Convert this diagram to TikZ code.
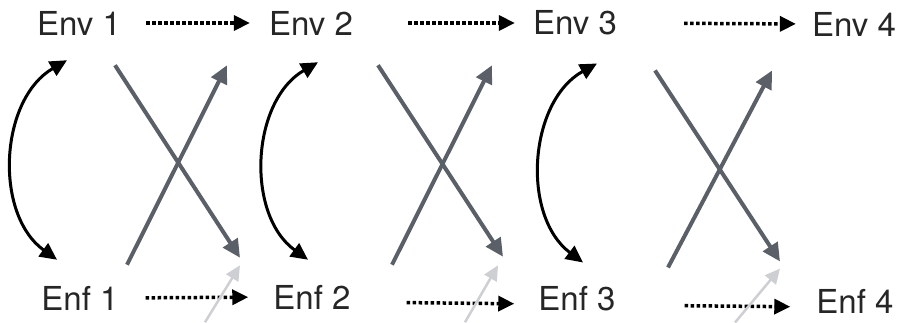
\documentclass[tikz,border=0pt]{standalone}
\usepackage{fontspec}
\setmainfont{TeX Gyre Heros}
\usepackage{tikz}
\definecolor{crossgray}{HTML}{5B5F67}
\definecolor{fadegray}{HTML}{CDCFD2}
\usetikzlibrary{arrows.meta}
\tikzstyle{lbl} = [inner sep=0pt, text=black!85, font=\fontsize{33}{38}\selectfont]
\tikzstyle{dotarrow} = [line width=3.5pt, dash pattern=on 3.5pt off 2.5pt,
-{Triangle[length=16pt,width=15pt]}]
\tikzstyle{swaparrow} = [line width=3pt, {Triangle[length=17pt,width=16pt]}-{Triangle[length=17pt,width=16pt]}]
\tikzstyle{crossarrow} = [crossgray, line width=4pt, -{Triangle[length=18pt,width=17pt]}]
\tikzstyle{fadearrow} = [fadegray, line width=2.5pt, -{Triangle[length=15pt,width=14pt]}]

\begin{document}
\begin{tikzpicture}[x=1pt, y=-1pt]
	\useasboundingbox (0,0) rectangle (901,322);
	\node (Env1) [lbl] at (79,23) {Env 1};
	\node (Env2) [lbl] at (311,23) {Env 2};
	\node (Env3) [lbl] at (575,23) {Env 3};
	\node (Env4) [lbl] at (854,24) {Env 4};
	\node (Enf1) [lbl] at (80,298) {Enf 1};
	\node (Enf2) [lbl] at (312,297) {Enf 2};
	\node (Enf3) [lbl] at (577,299) {Enf 3};
	\node (Enf4) [lbl] at (855,301) {Enf 4};

	\draw [dotarrow, shorten <=25pt, shorten >=19pt] (Env1.east) -- (Env2.west);
	\draw [dotarrow, shorten <=55pt, shorten >=18pt] (Env2.east) -- (Env3.west);
	\draw [dotarrow, shorten <=67pt, shorten >=16pt] (Env3.east) -- (Env4.west);
	\draw [dotarrow, shorten <=27pt, shorten >=25pt] (Enf1.east) -- (Enf2.west);
	\draw [dotarrow, shorten <=56pt, shorten >=24pt] ([yshift=-5pt]Enf2.east) -- ([yshift=-5pt]Enf3.west);
	\draw [dotarrow, shorten <=69pt, shorten >=26pt] ([yshift=-6pt]Enf3.east) -- ([yshift=-6pt]Enf4.west);

	\draw [swaparrow] ([shift={(-12,25)}]Env1.south) to[bend right=57] ([shift={(-23,-26)}]Enf1.north);
	\draw [swaparrow] ([shift={(7,27)}]Env2.south) to[bend right=57] ([shift={(-4,-25)}]Enf2.north);
	\draw [swaparrow] ([shift={(22,28)}]Env3.south) to[bend right=57] ([shift={(6,-24)}]Enf3.north);

	\draw [crossarrow] ([shift={(36,30)}]Env1.south) -- ([shift={(160,-28)}]Enf1.north);
	\draw [crossarrow] ([shift={(47,-21)}]Enf1.north) -- ([shift={(148,30)}]Env1.south);
	\draw [crossarrow] ([shift={(67,30)}]Env2.south) -- ([shift={(191,-28)}]Enf2.north);
	\draw [crossarrow] ([shift={(80,-20)}]Enf2.north) -- ([shift={(181,30)}]Env2.south);
	\draw [crossarrow] ([shift={(80,35)}]Env3.south) -- ([shift={(203,-25)}]Enf3.north);
	\draw [crossarrow] ([shift={(91,-19)}]Enf3.north) -- ([shift={(197,35)}]Env3.south);

	\draw [fadearrow] ([shift={(125,12)}]Enf1.south) -- ([shift={(160,-45)}]Enf1.south);
	\draw [fadearrow] ([shift={(153,13)}]Enf2.south) -- ([shift={(186,-44)}]Enf2.south);
	\draw [fadearrow] ([shift={(158,11)}]Enf3.south) -- ([shift={(203,-43)}]Enf3.south);
\end{tikzpicture}
\end{document}
